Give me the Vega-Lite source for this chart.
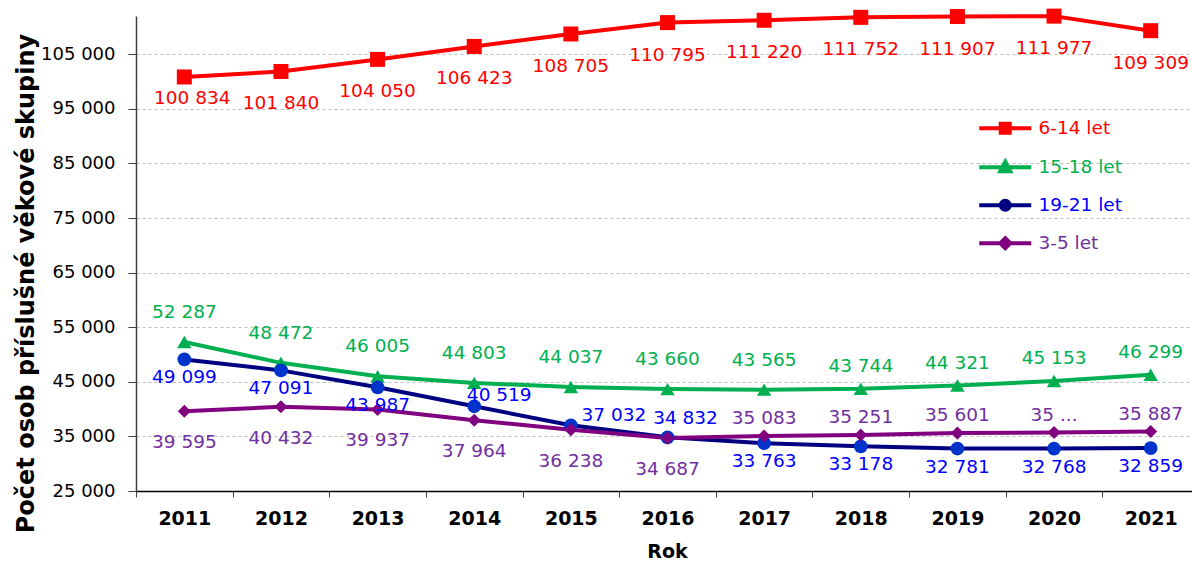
{
  "$schema": "https://vega.github.io/schema/vega-lite/v6.json",
  "width": 1063,
  "height": 475,
  "autosize": {"type": "none"},
  "padding": {"left": 136, "top": 16, "right": 0, "bottom": 70},
  "background": "white",
  "config": {
    "view": {"stroke": null},
    "font": "DejaVu Sans",
    "text": {"font": "DejaVu Sans", "fontSize": 18.5}
  },
  "data": {
    "values": [
      {"year": "2011", "series": "6-14 let", "value": 100834, "label": "100 834"},
      {"year": "2012", "series": "6-14 let", "value": 101840, "label": "101 840"},
      {"year": "2013", "series": "6-14 let", "value": 104050, "label": "104 050"},
      {"year": "2014", "series": "6-14 let", "value": 106423, "label": "106 423"},
      {"year": "2015", "series": "6-14 let", "value": 108705, "label": "108 705"},
      {"year": "2016", "series": "6-14 let", "value": 110795, "label": "110 795"},
      {"year": "2017", "series": "6-14 let", "value": 111220, "label": "111 220"},
      {"year": "2018", "series": "6-14 let", "value": 111752, "label": "111 752"},
      {"year": "2019", "series": "6-14 let", "value": 111907, "label": "111 907"},
      {"year": "2020", "series": "6-14 let", "value": 111977, "label": "111 977"},
      {"year": "2021", "series": "6-14 let", "value": 109309, "label": "109 309"},
      {"year": "2011", "series": "15-18 let", "value": 52287, "label": "52 287"},
      {"year": "2012", "series": "15-18 let", "value": 48472, "label": "48 472"},
      {"year": "2013", "series": "15-18 let", "value": 46005, "label": "46 005"},
      {"year": "2014", "series": "15-18 let", "value": 44803, "label": "44 803"},
      {"year": "2015", "series": "15-18 let", "value": 44037, "label": "44 037"},
      {"year": "2016", "series": "15-18 let", "value": 43660, "label": "43 660"},
      {"year": "2017", "series": "15-18 let", "value": 43565, "label": "43 565"},
      {"year": "2018", "series": "15-18 let", "value": 43744, "label": "43 744"},
      {"year": "2019", "series": "15-18 let", "value": 44321, "label": "44 321"},
      {"year": "2020", "series": "15-18 let", "value": 45153, "label": "45 153"},
      {"year": "2021", "series": "15-18 let", "value": 46299, "label": "46 299"},
      {"year": "2011", "series": "19-21 let", "value": 49099, "label": "49 099"},
      {"year": "2012", "series": "19-21 let", "value": 47091, "label": "47 091"},
      {"year": "2013", "series": "19-21 let", "value": 43987, "label": "43 987"},
      {"year": "2014", "series": "19-21 let", "value": 40519, "label": "40 519"},
      {"year": "2015", "series": "19-21 let", "value": 37032, "label": "37 032"},
      {"year": "2016", "series": "19-21 let", "value": 34832, "label": "34 832"},
      {"year": "2017", "series": "19-21 let", "value": 33763, "label": "33 763"},
      {"year": "2018", "series": "19-21 let", "value": 33178, "label": "33 178"},
      {"year": "2019", "series": "19-21 let", "value": 32781, "label": "32 781"},
      {"year": "2020", "series": "19-21 let", "value": 32768, "label": "32 768"},
      {"year": "2021", "series": "19-21 let", "value": 32859, "label": "32 859"},
      {"year": "2011", "series": "3-5 let", "value": 39595, "label": "39 595"},
      {"year": "2012", "series": "3-5 let", "value": 40432, "label": "40 432"},
      {"year": "2013", "series": "3-5 let", "value": 39937, "label": "39 937"},
      {"year": "2014", "series": "3-5 let", "value": 37964, "label": "37 964"},
      {"year": "2015", "series": "3-5 let", "value": 36238, "label": "36 238"},
      {"year": "2016", "series": "3-5 let", "value": 34687, "label": "34 687"},
      {"year": "2017", "series": "3-5 let", "value": 35083, "label": "35 083"},
      {"year": "2018", "series": "3-5 let", "value": 35251, "label": "35 251"},
      {"year": "2019", "series": "3-5 let", "value": 35601, "label": "35 601"},
      {"year": "2020", "series": "3-5 let", "value": 35700, "label": "35 ..."},
      {"year": "2021", "series": "3-5 let", "value": 35887, "label": "35 887"}
    ]
  },
  "encoding": {
    "x": {
      "field": "year", "type": "ordinal", "bandPosition": 0.5,
      "scale": {"type": "band", "paddingInner": 0, "paddingOuter": 0},
      "axis": {
        "title": "Rok", "labelAngle": 0, "tickBand": "extent",
        "domainColor": "#000000", "domainWidth": 1.5, "tickColor": "#404040", "tickSize": 6,
        "labelFont": "DejaVu Sans", "labelFontSize": 19, "labelFontWeight": "bold", "labelColor": "#000000",
        "labelPadding": 12,
        "titleFont": "DejaVu Sans", "titleFontSize": 19, "titleFontWeight": "bold", "titleColor": "#000000",
        "titleX": 531, "titleY": 66, "titleBaseline": "alphabetic", "titleAnchor": null
      }
    },
    "y": {
      "field": "value", "type": "quantitative",
      "scale": {"domain": [25000, 112000], "nice": false, "zero": false},
      "axis": {
        "title": "Počet osob příslušné věkové skupiny",
        "values": [25000, 35000, 45000, 55000, 65000, 75000, 85000, 95000, 105000],
        "labelExpr": "replace(format(datum.value, ','), ',', ' ')",
        "domainColor": "#404040", "domainWidth": 1.5, "tickColor": "#404040", "tickSize": 8,
        "labelFont": "DejaVu Sans", "labelFontSize": 18, "labelColor": "#000000", "labelPadding": 13,
        "grid": true, "gridColor": "#BFBFBF", "gridDash": [3, 3], "gridWidth": 1,
        "titleFont": "DejaVu Sans", "titleFontSize": 24, "titleFontWeight": "bold", "titleColor": "#000000",
        "titleAngle": -90, "titleX": -110, "titleY": 267, "titleBaseline": "middle", "titleAlign": "center", "titleAnchor": null
      }
    }
  },
  "layer": [
    {
      "mark": {"type": "line", "strokeWidth": 4, "interpolate": "linear"},
      "encoding": {
        "color": {
          "field": "series", "type": "nominal",
          "scale": {"domain": ["6-14 let", "15-18 let", "19-21 let", "3-5 let"], "range": ["#FF0000", "#00B050", "#000080", "#800080"]},
          "legend": {
            "title": null, "orient": "none", "legendX": 860, "legendY": 103,
            "labelFont": "DejaVu Sans", "labelFontSize": 18.5, "symbolSize": 100, "labelOffset": 24,
            "rowPadding": 12, "symbolStrokeWidth": 4,
            "encode": {
              "labels": {"update": {"fill": {"signal": "datum.label === '6-14 let' ? '#FF0000' : datum.label === '15-18 let' ? '#00B050' : datum.label === '19-21 let' ? '#0000FF' : '#7030A0'"}}},
              "symbols": {"update": {
                "shape": {"signal": "datum.label === '6-14 let' ? 'M-5.2,0H5.2M-0.9,-0.9H0.9V0.9H-0.9Z' : datum.label === '15-18 let' ? 'M-5.2,0H5.2M0,-1.1L1,0.8H-1Z' : datum.label === '19-21 let' ? 'M-5.2,0H5.2M0.9,0A0.9,0.9,0,1,1,-0.9,0A0.9,0.9,0,1,1,0.9,0Z' : 'M-5.2,0H5.2M0,-1L1,0L0,1L-1,0Z'"},
                "fill": {"signal": "datum.label === '6-14 let' ? '#FF0000' : datum.label === '15-18 let' ? '#00B050' : datum.label === '19-21 let' ? '#0033CC' : '#800080'"},
                "stroke": {"signal": "datum.label === '6-14 let' ? '#FF0000' : datum.label === '15-18 let' ? '#00B050' : datum.label === '19-21 let' ? '#000080' : '#800080'"},
                "strokeWidth": {"value": 4},
                "size": {"value": 100},
                "opacity": {"value": 1},
                "fillOpacity": {"value": 1},
                "strokeOpacity": {"value": 1}
              }}
            }
          }
        }
      }
    },
    {
      "mark": {"type": "point", "filled": true, "opacity": 1},
      "encoding": {
        "color": {
          "field": "series", "type": "nominal",
          "scale": {"domain": ["6-14 let", "15-18 let", "19-21 let", "3-5 let"], "range": ["#FF0000", "#00B050", "#0033CC", "#800080"]},
          "legend": null
        },
        "shape": {
          "field": "series", "type": "nominal",
          "scale": {"domain": ["6-14 let", "15-18 let", "19-21 let", "3-5 let"], "range": ["square", "triangle-up", "circle", "diamond"]},
          "legend": null
        },
        "size": {
          "field": "series", "type": "nominal",
          "scale": {"domain": ["6-14 let", "15-18 let", "19-21 let", "3-5 let"], "range": [225, 170, 225, 170]},
          "legend": null
        }
      }
    },
    {
      "transform": [{"filter": "datum.series === '6-14 let' && datum.year !== '2011'"}],
      "mark": {"type": "text", "color": "#FF0000", "dy": 32, "baseline": "middle"},
      "encoding": {"text": {"field": "label"}}
    },
    {
      "transform": [{"filter": "datum.series === '6-14 let' && datum.year === '2011'"}],
      "mark": {"type": "text", "color": "#FF0000", "dy": 21, "dx": 8, "baseline": "middle"},
      "encoding": {"text": {"field": "label"}}
    },
    {
      "transform": [{"filter": "datum.series === '15-18 let' && datum.year <= '2017'"}],
      "mark": {"type": "text", "color": "#00B050", "dy": -30, "baseline": "middle"},
      "encoding": {"text": {"field": "label"}}
    },
    {
      "transform": [{"filter": "datum.series === '15-18 let' && datum.year > '2017'"}],
      "mark": {"type": "text", "color": "#00B050", "dy": -23, "baseline": "middle"},
      "encoding": {"text": {"field": "label"}}
    },
    {
      "transform": [{"filter": "datum.series === '19-21 let' && (datum.year <= '2013' || datum.year >= '2017')"}],
      "mark": {"type": "text", "color": "#0000FF", "dy": 18, "baseline": "middle"},
      "encoding": {"text": {"field": "label"}}
    },
    {
      "transform": [{"filter": "datum.series === '19-21 let' && datum.year === '2014'"}],
      "mark": {"type": "text", "color": "#0000FF", "dx": 25, "dy": -11, "baseline": "middle"},
      "encoding": {"text": {"field": "label"}}
    },
    {
      "transform": [{"filter": "datum.series === '19-21 let' && datum.year === '2015'"}],
      "mark": {"type": "text", "color": "#0000FF", "dx": 43, "dy": -10, "baseline": "middle"},
      "encoding": {"text": {"field": "label"}}
    },
    {
      "transform": [{"filter": "datum.series === '19-21 let' && datum.year === '2016'"}],
      "mark": {"type": "text", "color": "#0000FF", "dx": 18, "dy": -19, "baseline": "middle"},
      "encoding": {"text": {"field": "label"}}
    },
    {
      "transform": [{"filter": "datum.series === '3-5 let' && datum.year <= '2016'"}],
      "mark": {"type": "text", "color": "#7030A0", "dy": 31, "baseline": "middle"},
      "encoding": {"text": {"field": "label"}}
    },
    {
      "transform": [{"filter": "datum.series === '3-5 let' && datum.year >= '2017'"}],
      "mark": {"type": "text", "color": "#7030A0", "dy": -18, "baseline": "middle"},
      "encoding": {"text": {"field": "label"}}
    }
  ],
  "resolve": {"scale": {"color": "independent"}, "legend": {"color": "independent"}}
}
